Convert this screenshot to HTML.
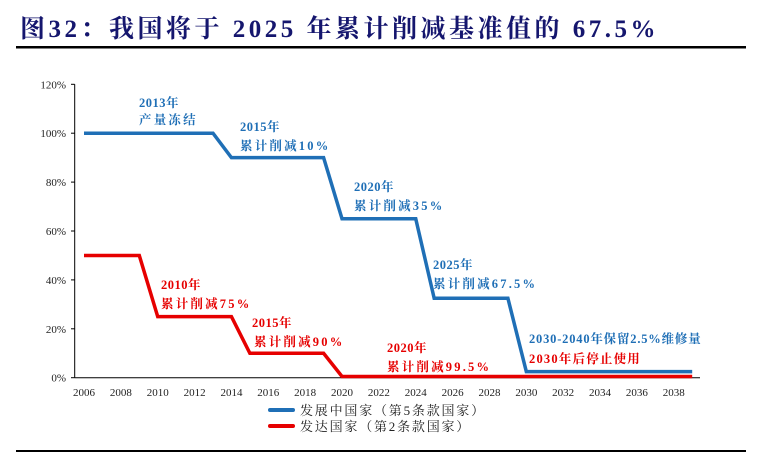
<!DOCTYPE html>
<html><head><meta charset="utf-8"><style>
body{margin:0;background:#fff;width:760px;height:457px;overflow:hidden;font-family:"Liberation Serif","Noto Serif CJK SC",serif}
</style></head><body>
<svg width="760" height="457" xmlns="http://www.w3.org/2000/svg">
<text x="20" y="37" font-size="25" font-weight="bold" fill="#15166e" letter-spacing="3.5" font-family="Liberation Serif, Noto Serif CJK SC, serif">图32：我国将于 2025 年累计削减基准值的 67.5%</text>
<rect x="16" y="46" width="730" height="2.5" fill="#000"/>
<rect x="16" y="450" width="730" height="2" fill="#000"/>
<g id="axes"></g>
<g id="series"></g>
<g font-weight="bold" font-size="12.5" letter-spacing="2.2" font-family="Liberation Serif, Noto Serif CJK SC, serif">
<text x="139" y="107" fill="#1f6fb6" letter-spacing="0.5">2013年</text>
<text x="139" y="124" fill="#1f6fb6">产量冻结</text>
<text x="240" y="131" fill="#1f6fb6" letter-spacing="0.5">2015年</text>
<text x="240" y="150" fill="#1f6fb6">累计削减10%</text>
<text x="354" y="191" fill="#1f6fb6" letter-spacing="0.5">2020年</text>
<text x="354" y="210" fill="#1f6fb6">累计削减35%</text>
<text x="433" y="269" fill="#1f6fb6" letter-spacing="0.5">2025年</text>
<text x="433" y="288" fill="#1f6fb6">累计削减67.5%</text>
<text x="529" y="343" fill="#1f6fb6" letter-spacing="0.8">2030-2040年保留2.5%维修量</text>
<text x="529" y="363" fill="#e60000" letter-spacing="1.2">2030年后停止使用</text>
<text x="161" y="289" fill="#e60000" letter-spacing="0.5">2010年</text>
<text x="161" y="308" fill="#e60000">累计削减75%</text>
<text x="252" y="327" fill="#e60000" letter-spacing="0.5">2015年</text>
<text x="254" y="346" fill="#e60000">累计削减90%</text>
<text x="387" y="352" fill="#e60000" letter-spacing="0.5">2020年</text>
<text x="387" y="371" fill="#e60000">累计削减99.5%</text>
</g>
<g font-size="13" letter-spacing="1.8" font-family="Liberation Serif, Noto Serif CJK SC, serif" fill="#222">
<rect x="268" y="408" width="27" height="4" rx="2" fill="#1f6fb6"/>
<text x="300" y="415">发展中国家（第5条款国家）</text>
<rect x="268" y="424" width="27" height="4" rx="2" fill="#e60000"/>
<text x="300" y="431">发达国家（第2条款国家）</text>
</g>
</svg>
<script>
const years=[2006,2013,2014,2019,2020,2024,2025,2029,2030,2039];
const blueValues=[100,100,90,90,65,65,32.5,32.5,2.5,2.5];
const redYears=[2006,2009,2010,2014,2015,2019,2020,2039];
const redValues=[50,50,25,25,10,10,0.5,0.5];
const yTicks=[0,20,40,60,80,100,120];
const xTicks=[2006,2008,2010,2012,2014,2016,2018,2020,2022,2024,2026,2028,2030,2032,2034,2036,2038];
const NS="http://www.w3.org/2000/svg";
const xs=y=>84+(y-2006)*18.43;
const ys=v=>377.7-v*2.445;
const ax=document.getElementById('axes'),se=document.getElementById('series');
function mk(t,a,p){const e=document.createElementNS(NS,t);for(const k in a)e.setAttribute(k,a[k]);p.appendChild(e);return e;}
let l=mk('line',{x1:74.7,y1:ys(120),x2:74.7,y2:ys(0),stroke:'#000','stroke-width':1},ax);


l=mk('line',{x1:74.7,y1:ys(0),x2:700,y2:ys(0),stroke:'#000','stroke-width':1},ax);


yTicks.forEach(v=>{
 let t=mk('line',{x1:71,y1:ys(v),x2:74.7,y2:ys(v),stroke:'#000'},ax);
 
 
 let tx=mk('text',{x:66,y:ys(v)+4,'text-anchor':'end','font-size':11,fill:'#222'},ax);
 tx.textContent=v+'%';
 
 
});
xTicks.forEach(y=>{
 let tx=mk('text',{x:xs(y),y:396,'text-anchor':'middle','font-size':11,fill:'#222'},ax);
 tx.textContent=y;
 
 
});
let p=mk('polyline',{points:redYears.map((y,i)=>xs(y)+','+ys(redValues[i])).join(' '),fill:'none',stroke:'#e60000','stroke-width':3.5,'stroke-linejoin':'miter'},se);


p=mk('polyline',{points:years.map((y,i)=>xs(y)+','+ys(blueValues[i])).join(' '),fill:'none',stroke:'#1f6fb6','stroke-width':3.5},se);


</script>
</body></html>
